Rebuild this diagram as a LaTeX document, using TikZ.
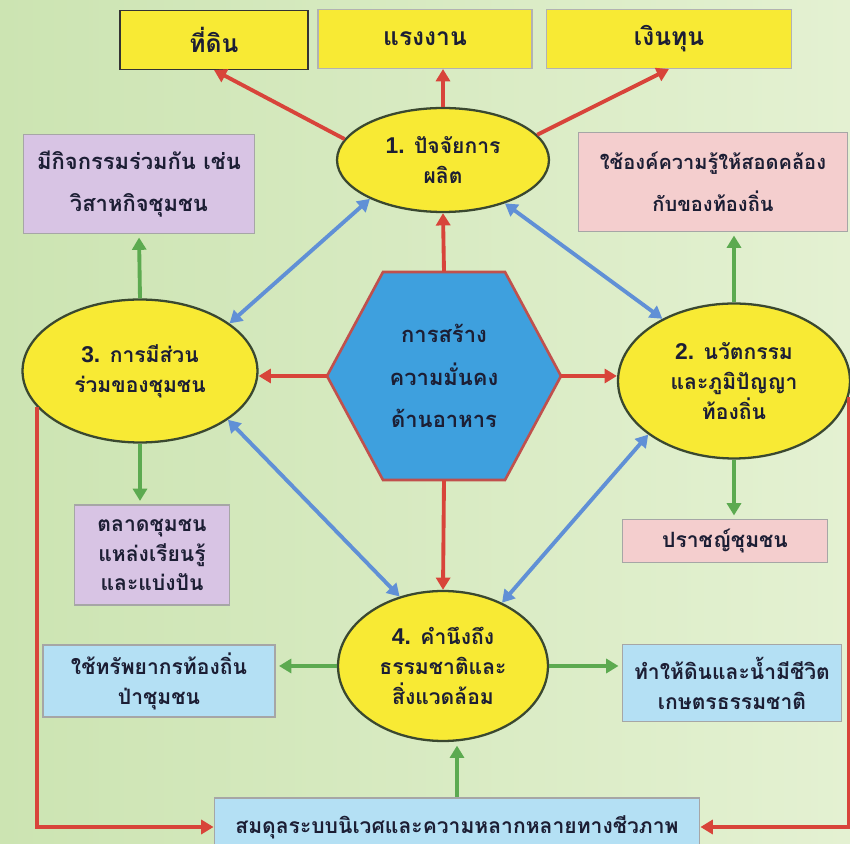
\documentclass[tikz,border=0pt]{standalone}
\usepackage{fontspec}
\usepackage{xcolor}
\usetikzlibrary{arrows.meta,shapes.geometric}
\newfontfamily\thaifont[Script=Thai]{Loma}
\newfontfamily\numfont{Liberation Sans}
\newcommand{\ovalno}[1]{{\numfont\bfseries\fontsize{13}{17}\selectfont #1.}}
\definecolor{bgleft}{RGB}{204,228,178}
\definecolor{bgright}{RGB}{228,241,210}
\definecolor{ovalfill}{RGB}{248,234,52}
\definecolor{ovalline}{RGB}{58,72,48}
\definecolor{hexfill}{RGB}{62,160,222}
\definecolor{hexline}{RGB}{192,80,77}
\definecolor{redline}{RGB}{216,68,58}
\definecolor{blueline}{RGB}{96,144,214}
\definecolor{greenline}{RGB}{92,170,80}
\definecolor{lilac}{RGB}{216,196,228}
\definecolor{rose}{RGB}{244,206,206}
\definecolor{sky}{RGB}{180,224,244}
\definecolor{inkc}{RGB}{28,30,52}

\begin{document}
\begin{tikzpicture}[x=0.02cm, y=-0.02cm]
    \tikzstyle{every node}=[font={\thaifont\bfseries\fontsize{12}{17}\selectfont}, text=inkc, align=center]
    \tikzstyle{wide}=[font={\thaifont\bfseries\fontsize{12.5}{24}\selectfont}]
    \tikzstyle{oval}=[ellipse, draw=ovalline, line width=1.3pt, fill=ovalfill, inner sep=0pt]
    \tikzstyle{topbox}=[rectangle, draw=gray!60, line width=0.6pt, fill=ovalfill, minimum height=1.18cm, font={\thaifont\bfseries\fontsize{14}{17}\selectfont}]
    \tikzstyle{sidebox}=[rectangle, draw=gray!70, line width=0.6pt]
    \tikzstyle{redarr}=[draw=redline, line width=2.2pt, -{Triangle[length=7pt,width=8pt]}]
    \tikzstyle{greenarr}=[draw=greenline, line width=2.2pt, -{Triangle[length=7pt,width=8pt]}, shorten >=2pt]
    \tikzstyle{bluearr}=[draw=blueline, line width=2.2pt, {Triangle[length=7pt,width=8pt]}-{Triangle[length=7pt,width=8pt]}]

    \useasboundingbox (0,0) rectangle (850,844);
    \shade[left color=bgleft, right color=bgright] (0,0) rectangle (850,844);

    \node[topbox, minimum width=3.76cm, draw=black!80] (land) at (214,40) {ที่ดิน};
    \node[topbox, minimum width=4.28cm] (labour) at (425,39) {แรงงาน};
    \node[topbox, minimum width=4.9cm] (capital) at (669,39) {เงินทุน};

    \node[sidebox, wide, fill=lilac, minimum width=4.62cm, minimum height=1.98cm] (act) at (139,184) {มีกิจกรรมร่วมกัน เช่น\\วิสาหกิจชุมชน};
    \node[sidebox, wide, fill=rose, minimum width=5.38cm, minimum height=1.98cm, font={\thaifont\bfseries\fontsize{11.4}{24}\selectfont}] (know) at (713,182) {ใช้องค์ความรู้ให้สอดคล้อง\\กับของท้องถิ่น};
    \node[sidebox, fill=lilac, minimum width=3.1cm, minimum height=2cm] (market) at (152,555) {ตลาดชุมชน\\แหล่งเรียนรู้\\และแบ่งปัน};
    \node[sidebox, fill=rose, minimum width=4.1cm, minimum height=0.86cm] (sage) at (725,541) {ปราชญ์ชุมชน};
    \node[sidebox, fill=sky, minimum width=4.64cm, minimum height=1.44cm] (forest) at (159,681) {ใช้ทรัพยากรท้องถิ่น\\ป่าชุมชน};
    \node[sidebox, fill=sky, minimum width=4.38cm, minimum height=1.54cm] (soil) at (732,683) {ทำให้ดินและน้ำมีชีวิต\\เกษตรธรรมชาติ};
    \node[sidebox, fill=sky, minimum width=9.72cm, minimum height=1.16cm] (eco) at (457,827) {สมดุลระบบนิเวศและความหลากหลายทางชีวภาพ};

    \filldraw[fill=hexfill, draw=hexline, line width=1.5pt] (383,272) -- (505,272) -- (561,376) -- (505,480) -- (383,480) -- (327,376) -- cycle;
    \node[wide, minimum width=4.68cm, minimum height=4.16cm] (hex) at (444,376) {การสร้าง\\ความมั่นคง\\ด้านอาหาร};

    \node[oval, minimum width=4.24cm, minimum height=2.08cm] (e1) at (443,160) {\ovalno{1} ปัจจัยการ\\ผลิต};
    \node[oval, minimum width=4.64cm, minimum height=3.1cm] (e2) at (734,381) {\ovalno{2} นวัตกรรม\\และภูมิปัญญา\\ท้องถิ่น};
    \node[oval, minimum width=4.7cm, minimum height=2.86cm] (e3) at (140,371) {\ovalno{3} การมีส่วน\\ร่วมของชุมชน};
    \node[oval, minimum width=4.2cm, minimum height=3.0cm] (e4) at (443,666) {\ovalno{4} คำนึงถึง\\ธรรมชาติและ\\สิ่งแวดล้อม};

    \draw[redarr] (e1.168) -- (land.south);
    \draw[redarr] (e1.north) -- (e1.north |- labour.south);
    \draw[redarr] (e1.15) -- (capital.south);
    \draw[redarr] (hex.north) -- (e1.south);
    \draw[redarr] (hex.west) -- (hex.west -| e3.east);
    \draw[redarr] (hex.east) -- (hex.east -| e2.west);
    \draw[redarr] (hex.south) -- (e4.north);
    \draw[redarr] (e3.199) |- (eco.west);
    \draw[redarr] (e2.352) |- (eco.east);

    \draw[bluearr] (e1.208) -- (e3.28);
    \draw[bluearr] (e1.325) -- (e2.139);
    \draw[bluearr] (e3.331) -- (e4.122);
    \draw[bluearr] (e2.212) -- (e4.47);

    \draw[greenarr] (e3.north) -- (act.south);
    \draw[greenarr] (e3.south) -- (e3.south |- market.north);
    \draw[greenarr] (e2.north) -- (e2.north |- know.south);
    \draw[greenarr] (e2.south) -- (e2.south |- sage.north);
    \draw[greenarr] (e4.west) -- (e4.west -| forest.east);
    \draw[greenarr] (e4.east) -- (e4.east -| soil.west);
    \draw[greenarr] (eco.north) -- (eco.north |- e4.south);
\end{tikzpicture}
\end{document}
